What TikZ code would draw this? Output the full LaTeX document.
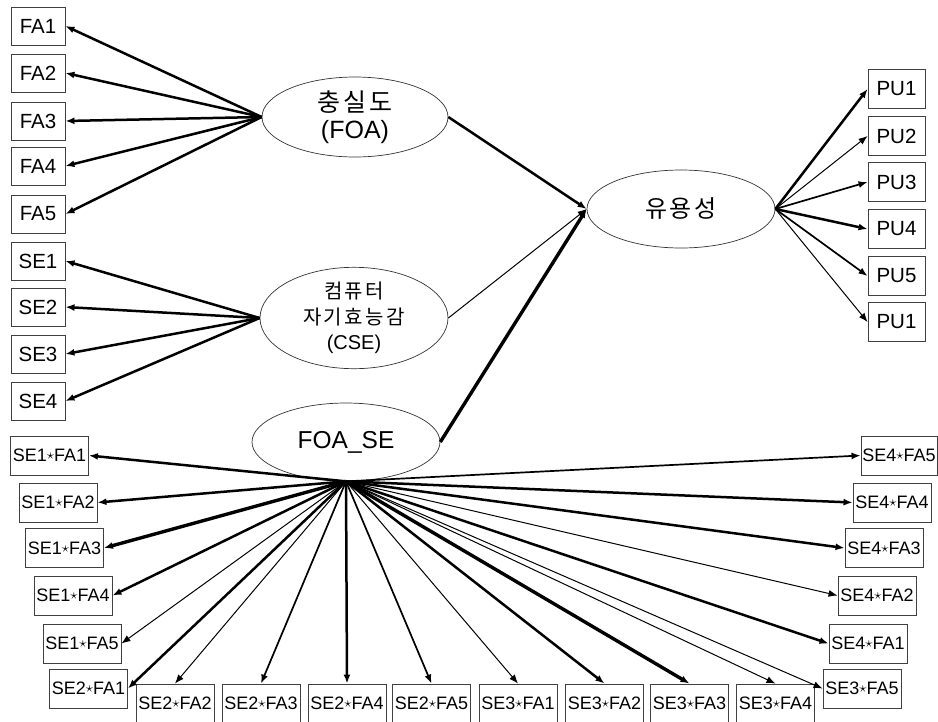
\documentclass[tikz,border=0pt]{standalone}
\usepackage{fontspec}
\setmainfont{Liberation Sans}
\newfontfamily\kr[LetterSpace=12]{Noto Sans CJK KR}
\usetikzlibrary{arrows.meta,shapes.geometric}
\newcommand\st{\raisebox{0.1em}{\scalebox{0.85}{$\star$}}}
\begin{document}
\begin{tikzpicture}[x=1pt,y=-1pt,
 box/.style={draw=black!75,line width=0.9pt,rectangle,inner sep=0pt,minimum width=54pt,minimum height=38pt,font=\fontsize{20.5}{24}\selectfont},
 pbox/.style={box,minimum width=57pt,minimum height=39pt},
 ibox/.style={box,minimum width=78pt,minimum height=39pt,font=\fontsize{18}{21}\selectfont},
 lat/.style={draw=black!80,line width=0.7pt,ellipse,inner sep=0pt,minimum width=188pt,minimum height=78pt,align=center},
 tipA/.style={-{Latex[length=9pt,width=7pt]}},
 thinA/.style={tipA,line width=1pt},
 medA/.style={tipA,line width=1.7pt},
 thickA/.style={tipA,line width=2.5pt},
 xthickA/.style={tipA,line width=3.4pt}]
\useasboundingbox (0,0) rectangle (938,721);
% indicator boxes
\node[box] (fa1) at (38,26) {FA1};
\node[box] (fa2) at (38,73) {FA2};
\node[box] (fa3) at (38,121) {FA3};
\node[box] (fa4) at (38,166) {FA4};
\node[box] (fa5) at (38,214) {FA5};
\node[box] (se1) at (38,261) {SE1};
\node[box] (se2) at (38,307) {SE2};
\node[box] (se3) at (38,354) {SE3};
\node[box] (se4) at (38,401) {SE4};
\node[pbox] (pu1) at (896.5,89) {PU1};
\node[pbox] (pu2) at (896.5,136) {PU2};
\node[pbox] (pu3) at (896.5,182) {PU3};
\node[pbox] (pu4) at (896.5,229) {PU4};
\node[pbox] (pu5) at (896.5,276) {PU5};
\node[pbox] (pu6) at (896.5,322) {PU1};
% latent variables
\node[lat,minimum width=186pt,minimum height=80pt,font=\fontsize{25}{27}\selectfont] (foa) at (355,117) {{\kr 충실도}\\(FOA)};
\node[lat,minimum height=77pt,font=\fontsize{20}{25.5}\selectfont] (cse) at (354,318) {{\kr 컴퓨터}\\{\kr 자기효능감}\\(CSE)};
\node[lat,font=\fontsize{24.5}{27}\selectfont] (foase) at (346,442) {FOA\_SE};
\node[lat,font=\fontsize{24}{27}\selectfont] (use) at (681,209) {\kr 유용성};
% interaction boxes
\node[ibox] (i11) at (49.5,455.5) {SE1\st FA1};
\node[ibox] (i12) at (58,502.5) {SE1\st FA2};
\node[ibox] (i13) at (64.5,548) {SE1\st FA3};
\node[ibox] (i14) at (73,595.5) {SE1\st FA4};
\node[ibox] (i15) at (82,643.5) {SE1\st FA5};
\node[ibox] (i21) at (88.5,688.5) {SE2\st FA1};
\node[ibox] (i22) at (175,703.5) {SE2\st FA2};
\node[ibox] (i23) at (261,703.5) {SE2\st FA3};
\node[ibox] (i24) at (347,703.5) {SE2\st FA4};
\node[ibox] (i25) at (431.5,703.5) {SE2\st FA5};
\node[ibox] (i31) at (518,703.5) {SE3\st FA1};
\node[ibox] (i32) at (604.5,703.5) {SE3\st FA2};
\node[ibox] (i33) at (689.5,703.5) {SE3\st FA3};
\node[ibox] (i34) at (775.5,703.5) {SE3\st FA4};
\node[ibox] (i35) at (862,688.5) {SE3\st FA5};
\node[ibox] (i41) at (868,643.5) {SE4\st FA1};
\node[ibox] (i42) at (877,595.5) {SE4\st FA2};
\node[ibox] (i43) at (884,548) {SE4\st FA3};
\node[ibox] (i44) at (892,502.5) {SE4\st FA4};
\node[ibox,minimum width=76pt] (i45) at (899,455.5) {SE4\st FA5};
% loadings
\draw[thickA] (foa.west) -- (fa1.east);
\draw[thickA] (foa.west) -- (fa2.east);
\draw[thickA] (foa.west) -- (fa3.east);
\draw[thickA] (foa.west) -- (fa4.east);
\draw[thickA] (foa.west) -- (fa5.east);
\draw[thickA] (cse.west) -- (se1.east);
\draw[thickA] (cse.west) -- (se2.east);
\draw[thickA] (cse.west) -- (se3.east);
\draw[thickA] (cse.west) -- (se4.east);
\draw[thickA] (use.east) -- (pu1.west);
\draw[thinA] (use.east) -- (pu2.west);
\draw[medA] (use.east) -- (pu3.west);
\draw[thickA] (use.east) -- (pu4.west);
\draw[medA] (use.east) -- (pu5.west);
\draw[thinA] (use.east) -- (pu6.west);
% structural paths
\draw[thickA] (foa.east) -- (use.west);
\draw[thinA] (cse.east) -- (use.west);
\draw[xthickA] (foase.east) -- (use.west);
% interaction loadings
\draw[thickA] (foase.south) -- (i11.east);
\draw[thickA] (foase.south) -- (i12.east);
\draw[xthickA] (foase.south) -- (i13.east);
\draw[thickA] (foase.south) -- (i14.east);
\draw[thinA] (foase.south) -- (i15.east);
\draw[thickA] (foase.south) -- (i21.east);
\draw[thinA] (foase.south) -- (i22.north);
\draw[medA] (foase.south) -- (i23.north);
\draw[thickA] (foase.south) -- (i24.north);
\draw[medA] (foase.south) -- (i25.north);
\draw[thinA] (foase.south) -- (i31.north);
\draw[thickA] (foase.south) -- (i32.north);
\draw[xthickA] (foase.south) -- (i33.north);
\draw[thinA] (foase.south) -- (i34.north);
\draw[thinA] (foase.south) -- (i35.west);
\draw[thickA] (foase.south) -- (i41.west);
\draw[thinA] (foase.south) -- (i42.west);
\draw[thickA] (foase.south) -- (i43.west);
\draw[thickA] (foase.south) -- (i44.west);
\draw[medA] (foase.south) -- (i45.west);
\end{tikzpicture}
\end{document}
